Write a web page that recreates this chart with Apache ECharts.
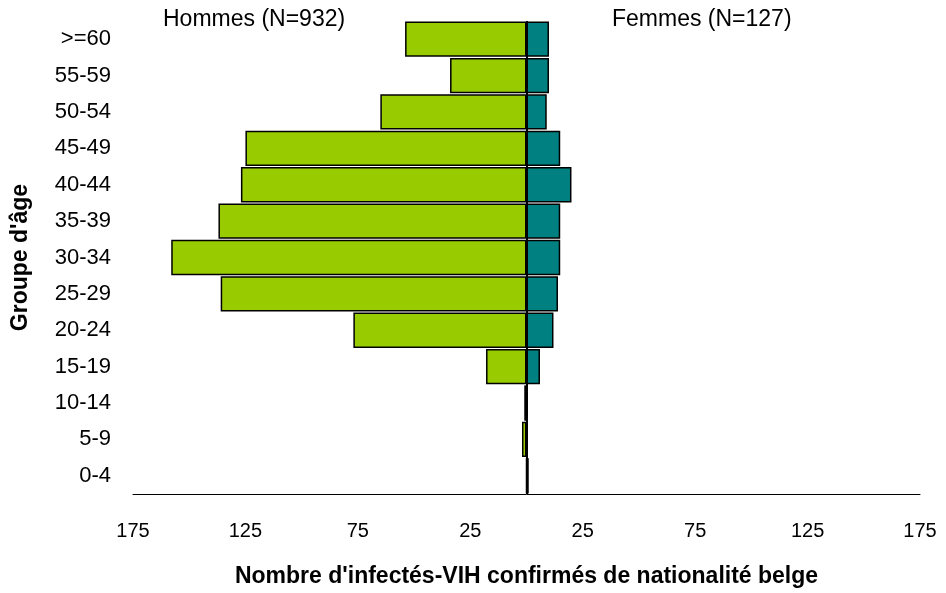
<!DOCTYPE html>
<html lang="fr">
<head>
    <meta charset="UTF-8">
    <title>Groupe d'âge - nationalité belge</title>
    <script src="https://cdn.jsdelivr.net/npm/echarts@6/dist/echarts.min.js"></script>
    <style>
        html, body { margin: 0; padding: 0; background: #fff; }
        #main { width: 946px; height: 593px; }
    </style>
</head>
<body>
    <div id="main"></div>
    <script>
    // groupes d'âge, du bas vers le haut
    var ageGroups = ['0-4', '5-9', '10-14', '15-19', '20-24', '25-29', '30-34', '35-39', '40-44', '45-49', '50-54', '55-59', '>=60'];
    var hommes = [0, 2, 1, 18, 77, 136, 158, 137, 127, 125, 65, 34, 54];
    var femmes = [1, 0, 0, 6, 12, 14, 15, 15, 20, 15, 9, 10, 10];
    var tickValues = [-175, -125, -75, -25, 25, 75, 125, 175];
    var labelHommes = 'Hommes (N=932)';
    var labelFemmes = 'Femmes (N=127)';

    var font = '"Liberation Sans", Arial, sans-serif';
    var myChart = echarts.init(document.getElementById('main'), null, { renderer: 'canvas' });

    var option = {
        animation: false,
        backgroundColor: '#fff',
        grid: {
            left: 133,
            right: 26,
            top: 21,
            bottom: 99
        },
        xAxis: {
            type: 'value',
            min: -175,
            max: 175,
            name: "Nombre d'infectés-VIH confirmés de nationalité belge",
            nameLocation: 'middle',
            nameGap: 71,
            nameTextStyle: {
                fontFamily: font,
                fontWeight: 'bold',
                fontSize: 23,
                color: '#000'
            },
            splitLine: { show: false },
            axisTick: { show: false },
            axisLine: { show: true, lineStyle: { color: '#000', width: 1 } },
            axisLabel: {
                customValues: tickValues,
                margin: 27,
                fontFamily: font,
                fontSize: 20,
                color: '#000',
                formatter: function (v) { return Math.abs(v); }
            }
        },
        yAxis: {
            type: 'category',
            data: ageGroups,
            name: "Groupe d'âge",
            nameLocation: 'middle',
            nameGap: 101,
            nameTextStyle: {
                fontFamily: font,
                fontWeight: 'bold',
                fontSize: 23,
                color: '#000'
            },
            axisLine: { show: false },
            axisTick: { show: false },
            axisLabel: {
                margin: 22,
                fontFamily: font,
                fontSize: 22,
                color: '#000'
            }
        },
        graphic: [
            {
                type: 'text',
                left: 163,
                top: 8,
                style: { text: labelHommes, fontFamily: font, fontSize: 23, fill: '#000' }
            },
            {
                type: 'text',
                left: 612,
                top: 8,
                style: { text: labelFemmes, fontFamily: font, fontSize: 23, fill: '#000' }
            }
        ],
        series: [
            {
                name: 'Hommes',
                type: 'bar',
                data: hommes.map(function (v) { return -v; }),
                barGap: '-100%',
                barCategoryGap: '3%',
                itemStyle: { color: '#99CC00', borderColor: '#000', borderWidth: 1.5 },
                markLine: {
                    silent: true,
                    symbol: 'none',
                    label: { show: false },
                    lineStyle: { color: '#000', width: 2, type: 'solid' },
                    data: [{ xAxis: 0 }]
                }
            },
            {
                name: 'Femmes',
                type: 'bar',
                data: femmes,
                barGap: '-100%',
                barCategoryGap: '3%',
                itemStyle: { color: '#008080', borderColor: '#000', borderWidth: 1.5 }
            }
        ]
    };

    myChart.setOption(option);
    window.addEventListener('resize', myChart.resize);
    </script>
</body>
</html>
